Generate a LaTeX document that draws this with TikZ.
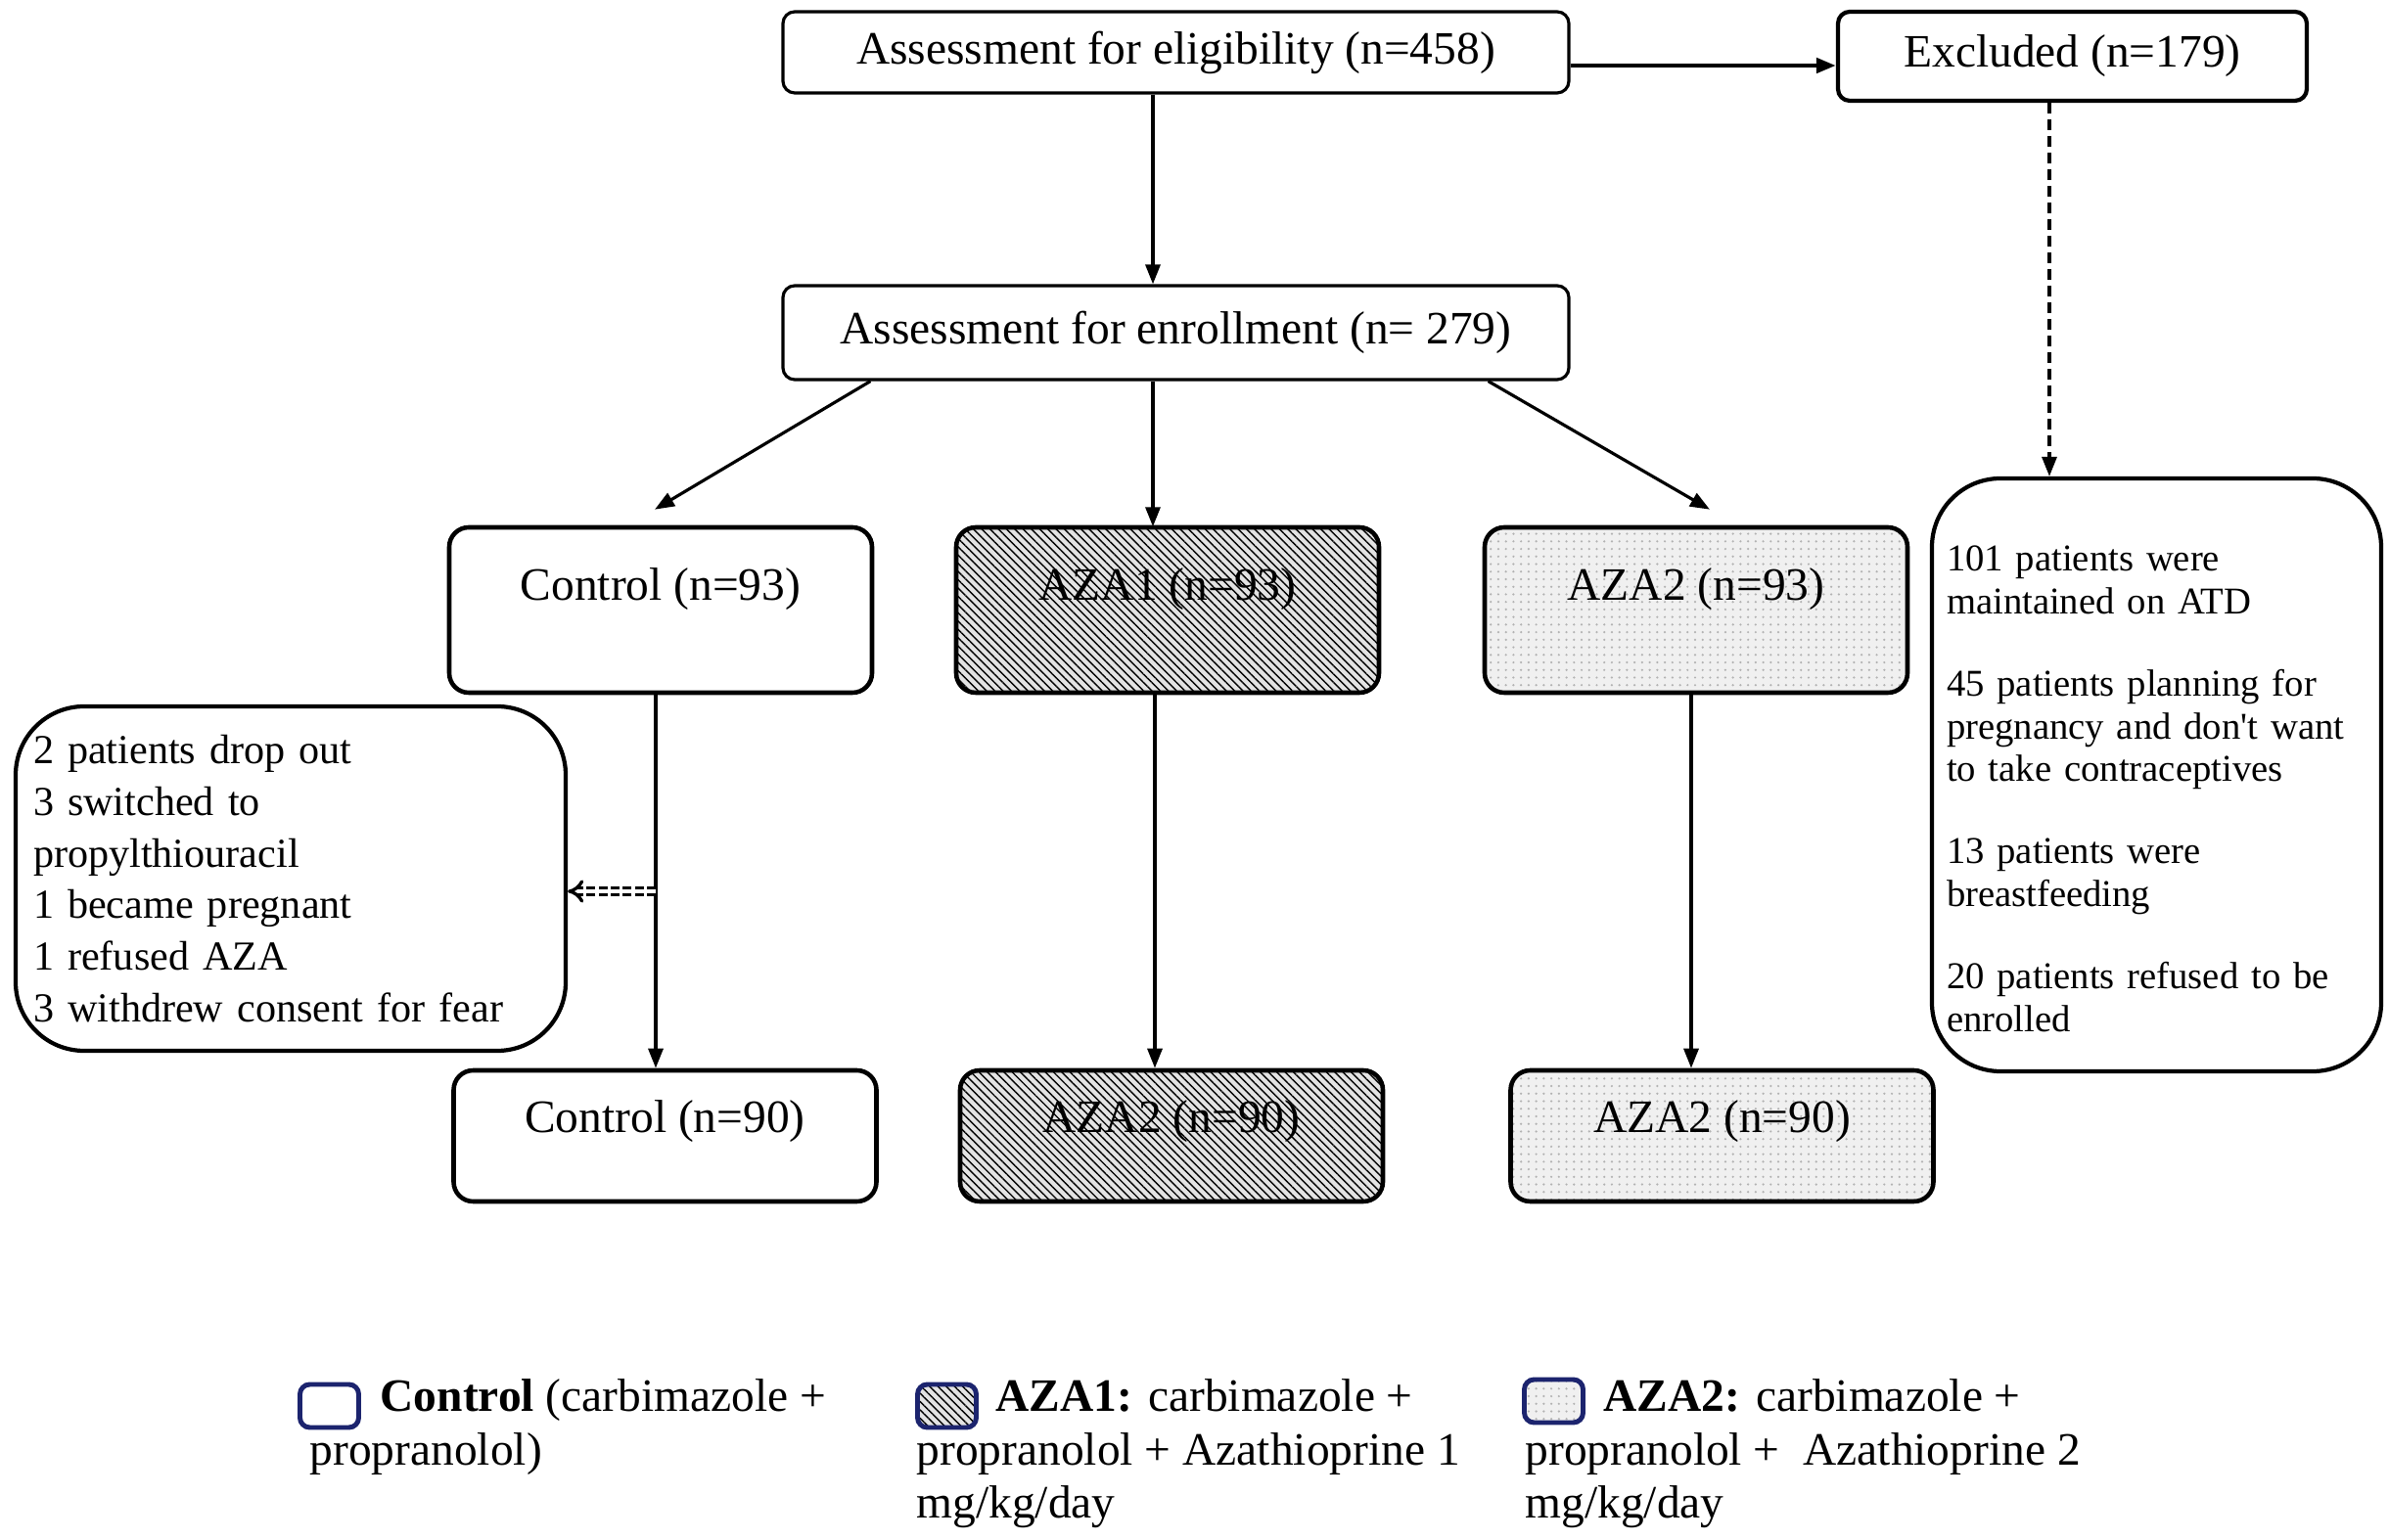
\documentclass[tikz,border=0pt]{standalone}
\usepackage{fontspec}
\setmainfont{Liberation Serif}
\usetikzlibrary{arrows.meta,patterns.meta}
\definecolor{legendnavy}{RGB}{28,36,110}

\begin{document}
\begin{tikzpicture}[
  >={Triangle[length=0.2cm,width=0.15cm]},
  headbox/.style={draw, line width=0.9pt, rounded corners=0.12cm, inner sep=0pt, font=\fontsize{13.5}{16}\selectfont},
  armbox/.style={draw, line width=1.3pt, rounded corners=0.2cm, inner sep=0pt, minimum width=4.32cm, font=\fontsize{13.5}{16}\selectfont},
  upper/.style={text height=0.75cm, text depth=0.94cm},
  lower/.style={text height=0.64cm, text depth=0.70cm},
  hatched/.style={preaction={fill=gray!22}, pattern={Lines[angle=-45,distance=1.7pt,line width=0.4pt]}},
  mottled/.style={preaction={fill=gray!12}, pattern={Dots[distance=2.2pt,radius=0.35pt]}, pattern color=gray!60},
  notebox/.style={draw, line width=1.2pt, rounded corners=0.7cm, align=left},
  arr/.style={->, line width=0.9pt},
  dropline/.style={double, double distance=1.2pt, line width=0.95pt, dash pattern=on 2.6pt off 0.9pt, -{Implies}},
  keybox/.style={draw=legendnavy, line width=1.4pt, rounded corners=0.1cm, minimum width=0.6cm, minimum height=0.44cm, inner sep=0pt},
  keytext/.style={anchor=north west, align=left, inner sep=0pt, font=\fontsize{13.5}{15.5}\selectfont}
]
    \useasboundingbox (0,0) rectangle (24.41,-15.74);

    % screening
    \node[headbox, minimum width=8.03cm, minimum height=0.83cm] (elig) at (12.015,-0.535) {Assessment for eligibility (n=458)};
    \node[headbox, line width=1.2pt, minimum width=4.79cm, minimum height=0.91cm] (excl) at (21.175,-0.575) {Excluded (n=179)};
    \node[headbox, minimum width=8.03cm, minimum height=0.96cm] (enroll) at (12.015,-3.40) {Assessment for enrollment (n= 279)};

    % arms
    \node[armbox, upper] (ctrl93) at (6.75,-6.235) {Control (n=93)};
    \node[armbox, upper, hatched] (aza193) at (11.93,-6.235) {AZA1 (n=93)};
    \node[armbox, upper, mottled] (aza293) at (17.33,-6.235) {AZA2 (n=93)};
    \node[armbox, lower] (ctrl90) at (6.795,-11.61) {Control (n=90)};
    \node[armbox, lower, hatched] (aza190) at (11.97,-11.61) {AZA2 (n=90)};
    \node[armbox, lower, mottled] (aza290) at (17.595,-11.61) {AZA2 (n=90)};

    % notes
    \node[notebox, font=\fontsize{12}{15}\selectfont, text width=5.26cm, inner xsep=0.18cm, minimum height=3.52cm] (dropout) at (2.97,-8.98)
        {2 patients drop out\\3 switched to\\propylthiouracil\\1 became pregnant\\1 refused AZA\\3 withdrew consent for fear};
    \node[notebox, font=\fontsize{11}{12.5}\selectfont, text width=4.29cm, inner xsep=0.15cm, minimum height=6.06cm] (reasons) at (22.035,-7.92)
        {\rule{0pt}{0.54cm}101 patients were\\maintained on ATD\\[11.3pt]45 patients planning for\\pregnancy and don\textquotesingle t want\\to take contraceptives\\[11.3pt]13 patients were\\breastfeeding\\[11.3pt]20 patients refused to be\\enrolled};

    % connectors
    \draw[arr] ([xshift=-0.235cm]elig.south) -- ([xshift=-0.235cm]elig.south |- enroll.north);
    \draw[arr, line width=1.3pt] ([yshift=-0.135cm]elig.east) -- ([yshift=-0.135cm]elig.east -| excl.west);
    \draw[arr, dash pattern=on 0.11cm off 0.06cm] ([xshift=-0.235cm]excl.south) -- ([xshift=-0.235cm]excl.south |- reasons.north);
    \draw[arr] ([xshift=0.91cm]enroll.south west) -- ([xshift=-0.06cm,yshift=0.16cm]ctrl93.north);
    \draw[arr] ([xshift=-0.235cm]enroll.south) -- ([xshift=-0.235cm]enroll.south |- aza193.north);
    \draw[arr] ([xshift=-0.84cm]enroll.south east) -- ([xshift=0.14cm,yshift=0.16cm]aza293.north);
    \draw[arr] ([xshift=-0.05cm]ctrl93.south) -- ([xshift=-0.05cm]ctrl93.south |- ctrl90.north);
    \draw[arr] ([xshift=-0.13cm]aza193.south) -- ([xshift=-0.13cm]aza193.south |- aza190.north);
    \draw[arr] ([xshift=-0.05cm]aza293.south) -- ([xshift=-0.05cm]aza293.south |- aza290.north);
    \coordinate (dropoff) at (6.70,-9.11);
    \draw[dropline] (dropoff) -- (dropoff -| dropout.east);

    % legend
    \node[keybox] (keyctrl) at (3.365,-14.37) {};
    \node[keytext] (keyctrltext) at (3.16,-14.09) {\hspace*{0.72cm}\textbf{Control} (carbimazole +\\propranolol)};
    \node[keybox, hatched] (keyaza1) at (9.675,-14.37) {};
    \node[keytext] (keyaza1text) at (9.36,-14.09) {\hspace*{0.81cm}\textbf{AZA1:} carbimazole +\\propranolol + Azathioprine 1\\mg/kg/day};
    \node[keybox, mottled] (keyaza2) at (15.875,-14.32) {};
    \node[keytext] (keyaza2text) at (15.58,-14.09) {\hspace*{0.80cm}\textbf{AZA2:} carbimazole +\\propranolol +\ \ Azathioprine 2\\mg/kg/day};
\end{tikzpicture}
\end{document}
